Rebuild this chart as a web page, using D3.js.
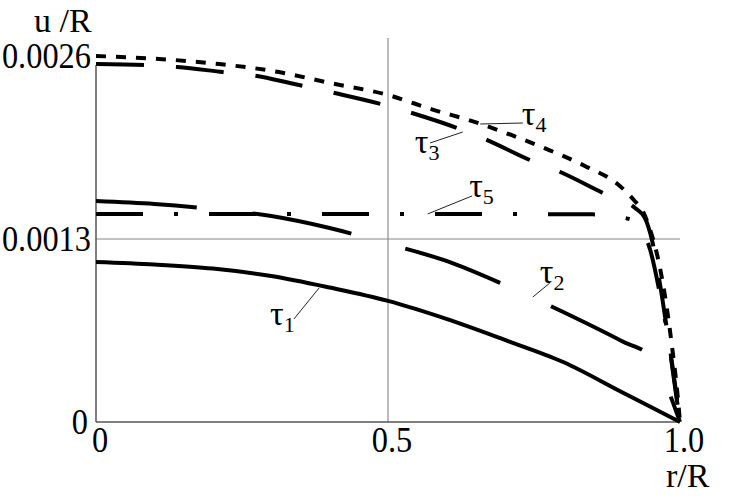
<!DOCTYPE html>
<html>
<head>
<meta charset="utf-8">
<script src="https://cdn.jsdelivr.net/npm/d3@7"></script>
<style>
  html, body { margin: 0; padding: 0; background: #fff; }
  svg { display: block; }
</style>
</head>
<body>
<svg id="chart" width="733" height="502"></svg>
<script>
// ---- data (r/R, u/R) ----
const xTicks = [0, 0.5, 1.0];
const xTickLabels = ["0", "0.5", "1.0"];
const yTicks = [0, 0.0013, 0.0026];
const yTickLabels = ["0", "0.0013", "0.0026"];

const tau1X = [0, 0.1, 0.2, 0.3, 0.4, 0.5, 0.6, 0.7, 0.8, 0.9, 1.0];
const tau1Y = [0.001137, 0.001119, 0.001090, 0.001037, 0.000955, 0.000860, 0.000732, 0.000583, 0.000426, 0.000213, 0];

const tau2X = [0, 0.1, 0.2, 0.3, 0.4, 0.5, 0.6, 0.7, 0.8, 0.9, 0.95, 1.0];
const tau2Y = [0.001570, 0.001549, 0.001513, 0.001463, 0.001378, 0.001265, 0.001144, 0.000973, 0.000781, 0.000575, 0.000462, 0];

const tau3X = [0, 0.084, 0.139, 0.217, 0.276, 0.332, 0.401, 0.5, 0.541, 0.618, 0.670, 0.743, 0.795, 0.868, 0.923, 0.940, 0.952, 0.966, 0.979, 0.991, 1.0];
const tau3Y = [0.002543, 0.002536, 0.002522, 0.002486, 0.002458, 0.002408, 0.002344, 0.002245, 0.002195, 0.002089, 0.002003, 0.001861, 0.001776, 0.001627, 0.001520, 0.001449, 0.001293, 0.000973, 0.000618, 0.000263, 0];

const tau4X = [0, 0.108, 0.211, 0.313, 0.401, 0.5, 0.579, 0.644, 0.711, 0.776, 0.837, 0.897, 0.921, 0.937, 0.949, 0.961, 0.974, 0.986, 0.995, 1.0];
const tau4Y = [0.002600, 0.002579, 0.002543, 0.002486, 0.002408, 0.002323, 0.002216, 0.002138, 0.002039, 0.001932, 0.001819, 0.001677, 0.001577, 0.001492, 0.001364, 0.001186, 0.000902, 0.000547, 0.000227, 0];

const tau5X = [0, 0.5, 0.85, 0.913, 0.932, 0.949, 0.966, 0.983, 1.0];
const tau5Y = [0.001478, 0.001478, 0.001475, 0.001442, 0.001378, 0.001222, 0.000902, 0.000512, 0];

// label annotations in data units
const labelNames = ["τ", "τ", "τ", "τ", "τ"];
const labelSubs = ["1", "2", "3", "4", "5"];
const labelTextX = [0.298, 0.760, 0.546, 0.729, 0.639];
const labelTextY = [0.000689, 0.000987, 0.001911, 0.002110, 0.001598];
const leaderFromX = [0.339, 0.748, 0.572, 0.658, 0.568];
const leaderFromY = [0.000732, 0.000888, 0.001982, 0.002117, 0.001478];
const leaderToX = [0.382, 0.777, 0.628, 0.731, 0.644];
const leaderToY = [0.000952, 0.000987, 0.002060, 0.002124, 0.001606];

// ---- layout ----
const FONT = "'Liberation Serif', 'Times New Roman', Times, 'DejaVu Serif', serif";
const svg = d3.select("#chart");
const x = d3.scaleLinear().domain([0, 1]).range([96, 680]);
const y = d3.scaleLinear().domain([0, 0.0026]).range([422, 56]);

// grid lines
svg.append("line")
  .attr("x1", x(0.5)).attr("x2", x(0.5))
  .attr("y1", y(0)).attr("y2", y(0.002728))
  .attr("stroke", "#777").attr("stroke-width", 1);
svg.append("line")
  .attr("x1", x(0)).attr("x2", x(1))
  .attr("y1", y(0.0013)).attr("y2", y(0.0013))
  .attr("stroke", "#888").attr("stroke-width", 1.2);

// axes
svg.append("line")
  .attr("x1", x(0)).attr("x2", x(0))
  .attr("y1", y(0)).attr("y2", y(0.002536))
  .attr("stroke", "#555").attr("stroke-width", 1.5);
svg.append("line")
  .attr("x1", x(0)).attr("x2", x(1))
  .attr("y1", y(0)).attr("y2", y(0))
  .attr("stroke", "#555").attr("stroke-width", 1.5);

// tick labels
yTicks.forEach((v, i) => {
  svg.append("text")
    .attr("transform", `translate(${x(0) - (v === 0 ? 8 : 5)},${y(v)}) scale(0.9,1)`)
    .attr("text-anchor", "end")
    .attr("dy", "0.34em")
    .attr("font-family", FONT)
    .attr("font-size", 36)
    .text(yTickLabels[i]);
});
xTicks.forEach((v, i) => {
  svg.append("text")
    .attr("transform", `translate(${x(v) + 4},${y(0) + 30}) scale(0.9,1)`)
    .attr("text-anchor", "middle")
    .attr("font-family", FONT)
    .attr("font-size", 36)
    .text(xTickLabels[i]);
});

// axis titles
svg.append("text")
  .attr("x", 34).attr("y", 32)
  .attr("font-family", FONT)
  .attr("font-size", 34)
  .text("u /R");
svg.append("text")
  .attr("x", 666).attr("y", 487)
  .attr("font-family", FONT)
  .attr("font-size", 34)
  .text("r/R");

// curves
const line = d3.line().x(d => x(d[0])).y(d => y(d[1])).curve(d3.curveMonotoneX);
const series = [
  { xs: tau1X, ys: tau1Y, dash: null },
  { xs: tau2X, ys: tau2Y, dash: "101,56" },
  { xs: tau3X, ys: tau3Y, dash: "48,32" },
  { xs: tau4X, ys: tau4Y, dash: "10,10" },
  { xs: tau5X, ys: tau5Y, dash: "47,31,4,31" }
];
series.forEach(s => {
  const pts = s.xs.map((v, i) => [v, s.ys[i]]);
  const p = svg.append("path")
    .attr("d", line(pts))
    .attr("fill", "none")
    .attr("stroke", "#000")
    .attr("stroke-width", 4)
    .attr("stroke-linecap", "butt")
    .attr("stroke-linejoin", "round");
  if (s.dash) p.attr("stroke-dasharray", s.dash);
});

// annotations
labelNames.forEach((n, i) => {
  svg.append("line")
    .attr("x1", x(leaderFromX[i])).attr("y1", y(leaderFromY[i]))
    .attr("x2", x(leaderToX[i])).attr("y2", y(leaderToY[i]))
    .attr("stroke", "#222").attr("stroke-width", 1);
  const t = svg.append("text")
    .attr("x", x(labelTextX[i])).attr("y", y(labelTextY[i]))
    .attr("font-family", FONT)
    .attr("font-size", 34);
  t.append("tspan").text(n);
  t.append("tspan").attr("dy", 7).attr("font-size", 22).text(labelSubs[i]);
});
</script>
</body>
</html>
